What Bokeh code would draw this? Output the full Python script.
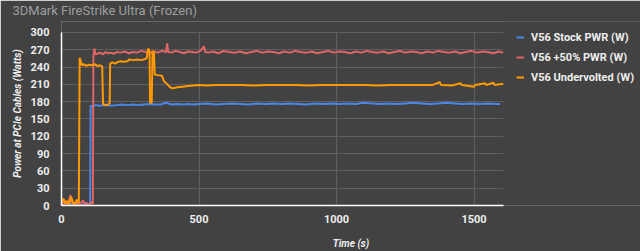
from bokeh.plotting import figure
from bokeh.models import FixedTicker, Legend, LegendItem, Range1d, Title, BoxAnnotation
from bokeh.embed import file_html
from bokeh.resources import INLINE

title_text = "3DMark FireStrike Ultra (Frozen)"
x_label = "Time (s)"
y_label = "Power at PCIe Cables (Watts)"
series_names = ["V56 Stock PWR (W)", "V56 +50% PWR (W)", "V56 Undervolted (W)"]
x_ticks = [0, 500, 1000, 1500]
y_ticks = [0, 30, 60, 90, 120, 150, 180, 210, 240, 270, 300]
x_max = 1607
y_max = 300

t_stock = [0, 8, 15, 22, 30, 38, 45, 52, 60, 68, 75, 82, 90, 97, 104,
           106, 112, 125, 140, 160, 180, 200, 220, 240, 260, 280, 300, 320, 340, 360,
           380, 400, 420, 440, 460, 480, 500, 530, 560, 590, 620, 650, 680, 710, 740,
           770, 800, 830, 860, 890, 920, 950, 980, 1010, 1040, 1070, 1100, 1130, 1160,
           1190, 1220, 1250, 1280, 1310, 1340, 1370, 1400, 1430, 1460, 1490, 1520, 1550,
           1580, 1595]
v_stock = [2, 0, 6, 1, 0, 3, 1, 0, 4, 1, 0, 2, 5, 1, 0,
           173, 172, 174, 173, 174, 173, 174, 175, 174, 175, 174, 175, 176, 175, 175,
           178, 175, 176, 175, 176, 175, 176, 177, 175, 176, 177, 176, 175, 177, 176,
           177, 176, 177, 176, 175, 177, 176, 177, 176, 177, 176, 178, 177, 176,
           177, 176, 177, 178, 177, 176, 177, 178, 177, 176, 177, 176, 177,
           176, 176]

t_plus50 = [0, 6, 12, 18, 25, 33, 40, 47, 55, 62, 70, 78, 85, 92, 100, 108, 114,
            116, 120, 123, 130, 140, 150, 160, 170, 180, 190, 200, 215, 230, 245, 260,
            275, 290, 305, 320, 335, 350, 365, 380, 384, 388, 400, 415, 430, 445, 460,
            475, 490, 505, 518, 522, 535, 550, 570, 590, 610, 630, 650, 670, 690, 710,
            730, 750, 770, 790, 810, 830, 850, 870, 890, 910, 930, 950, 970, 990, 1010,
            1030, 1050, 1070, 1090, 1110, 1130, 1150, 1170, 1190, 1210, 1230, 1250, 1270,
            1290, 1310, 1330, 1350, 1370, 1390, 1410, 1430, 1450, 1470, 1490, 1510, 1530,
            1550, 1570, 1590, 1606]
v_plus50 = [3, 1, 8, 2, 5, 18, 4, 2, 6, 1, 3, 9, 2, 4, 1, 6, 3,
            258, 272, 262, 263, 265, 262, 266, 264, 265, 263, 266, 265, 267, 264, 266,
            265, 268, 266, 264, 267, 265, 268, 266, 281, 266, 265, 268, 266, 264, 267,
            266, 265, 268, 276, 266, 265, 267, 264, 268, 266, 265, 267, 264, 266, 268,
            265, 267, 266, 264, 267, 265, 268, 266, 265, 267, 264, 266, 268, 265, 267,
            266, 264, 267, 265, 268, 266, 265, 267, 264, 266, 268, 265, 267, 266,
            264, 267, 265, 268, 266, 265, 267, 264, 266, 268, 265, 267, 266,
            264, 267, 265, 266, 267]

t_under = [0, 7, 14, 21, 28, 35, 42, 49, 56, 63,
           66, 70, 74, 80, 90, 100, 110, 120, 130, 140, 148, 151, 160, 170, 175,
           177, 185, 195, 205, 215, 225, 240, 245, 260, 275, 290, 305, 310, 315, 320,
           322, 328, 331, 336, 339, 350, 365, 372, 385, 395, 405, 420, 440, 460, 480,
           500, 530, 560, 600, 650, 700, 750, 800, 850, 900, 950, 1000, 1050, 1100,
           1150, 1200, 1250, 1300, 1350, 1375, 1380, 1420, 1450, 1455, 1500, 1505,
           1540, 1545, 1570, 1575, 1606]
v_under = [4, 12, 3, 8, 2, 15, 5, 3, 10, 4,
           256, 250, 243, 245, 242, 244, 243, 245, 242, 243, 241, 176, 174, 175, 177,
           246, 248, 246, 249, 250, 249, 250, 253, 252, 253, 252, 254, 256, 272, 268,
           178, 178, 268, 266, 227, 226, 225, 216, 210, 205, 203, 205, 206, 207, 208,
           209, 208, 209, 209, 209, 208, 209, 209, 209, 208, 209, 209, 209, 209,
           208, 209, 209, 209, 209, 214, 209, 208, 212, 209, 206, 209,
           212, 209, 213, 209, 211]

colors = ["#4a86e8", "#e06666", "#ff9900"]
bg = "#424242"
grid = "#5f5f5f"
txt = "#eeeeee"

# layout geometry (pixels)
W, H = 640, 251
LEFT, TOP, BOTTOM = 61, 20, 46
DATA_W, DATA_H = 442, 174          # pixel extent of the data area
frame_w = W - LEFT
frame_h = H - TOP - BOTTOM
x_end = x_max * frame_w / DATA_W
y_end = y_max * frame_h / DATA_H

p = figure(width=W, height=H, output_backend="svg", toolbar_location=None,
           x_range=Range1d(0, x_end), y_range=Range1d(0, y_end),
           min_border_left=LEFT, min_border_right=0, min_border_top=TOP,
           min_border_bottom=BOTTOM)
p.background_fill_color = bg
p.border_fill_color = bg
p.outline_line_color = None

p.add_layout(Title(text=title_text, align="left", offset=-49, standoff=4,
                   vertical_align="top", text_color="#9e9e9e", text_font="Roboto",
                   text_font_size="13px", text_font_style="normal"), "above")

p.xaxis.ticker = FixedTicker(ticks=x_ticks)
p.yaxis.ticker = FixedTicker(ticks=y_ticks)
p.xaxis.bounds = (0, x_max)
p.yaxis.bounds = (0, y_max)
for ax in (p.xaxis, p.yaxis):
    ax.major_tick_line_color = None
    ax.minor_tick_line_color = None
    ax.axis_line_color = "#ffffff"
    ax.axis_line_width = 1.5
    ax.major_label_text_color = txt
    ax.major_label_text_font = "Roboto"
    ax.major_label_text_font_style = "bold"
    ax.major_label_text_font_size = "11px"
    ax.axis_label_text_color = txt
    ax.axis_label_text_font = "Roboto"
    ax.axis_label_text_font_style = "bold italic"
    ax.axis_label_text_font_size = "10px"
p.xaxis.axis_label = x_label
p.yaxis.axis_label = y_label
p.xaxis.major_label_standoff = 3
p.yaxis.major_label_standoff = 6
p.xaxis.axis_label_standoff = 12
p.yaxis.axis_label_standoff = 5

p.xgrid.ticker = FixedTicker(ticks=x_ticks)
p.ygrid.ticker = FixedTicker(ticks=y_ticks)
p.xgrid.grid_line_color = grid
p.ygrid.grid_line_color = grid
p.xgrid.grid_line_width = 1.2
p.ygrid.grid_line_width = 1.2

# hide grid outside the data area (the legend area on the right and above 300)
p.add_layout(BoxAnnotation(left=x_max, fill_color=bg, fill_alpha=1, line_alpha=0,
                           level="underlay"))
p.add_layout(BoxAnnotation(bottom=y_max + 1.5, fill_color=bg, fill_alpha=1, line_alpha=0,
                           level="underlay"))

r1 = p.line(t_stock, v_stock, line_color=colors[0], line_width=2)
r2 = p.line(t_plus50, v_plus50, line_color=colors[1], line_width=2)
r3 = p.line(t_under, v_under, line_color=colors[2], line_width=2)

legend = Legend(items=[LegendItem(label=n, renderers=[r]) for n, r in zip(series_names, [r1, r2, r3])],
                location=(455, 120))
legend.background_fill_alpha = 0
legend.border_line_color = None
legend.label_text_color = txt
legend.label_text_font = "Roboto"
legend.label_text_font_style = "bold"
legend.label_text_font_size = "11px"
legend.glyph_width = 8
legend.glyph_height = 16
legend.label_height = 16
legend.spacing = 4
legend.padding = 4
legend.margin = 0
legend.label_standoff = 7
p.add_layout(legend, "center")

open("out.html", "w").write(file_html(p, INLINE))
